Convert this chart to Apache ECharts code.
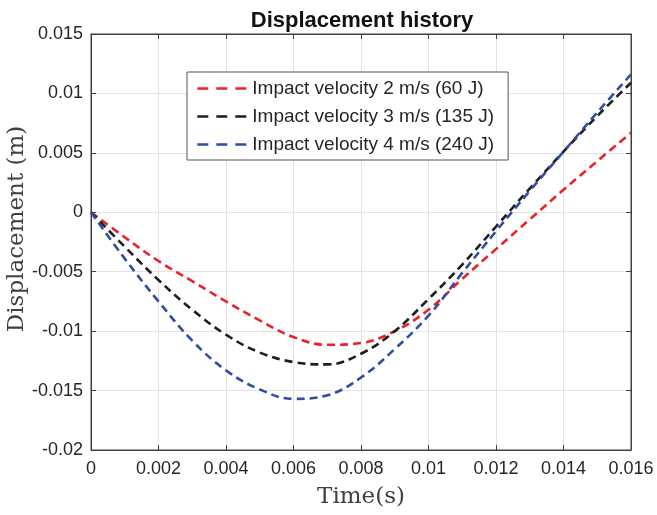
<!DOCTYPE html>
<html>
<head>
<meta charset="utf-8">
<script src="https://cdn.jsdelivr.net/npm/echarts@6/dist/echarts.min.js"></script>
<style>
  html, body { margin: 0; padding: 0; background: #fff; }
  #chart { width: 657px; height: 515px; }
</style>
</head>
<body>
<div id="chart"></div>
<script>
// time samples (s)
const times = [0, 0.001, 0.002, 0.003, 0.004, 0.005, 0.006, 0.007, 0.008,
  0.009, 0.010, 0.011, 0.012, 0.013, 0.014, 0.015, 0.016];

// displacement (m)
const v2 = [0, -0.0021, -0.0041, -0.0058, -0.0075, -0.0091, -0.0105, -0.01115, -0.0110,
  -0.0100, -0.0082, -0.0056, -0.0031, -0.0006, 0.0019, 0.0043, 0.0067];
const v3 = [0, -0.0029, -0.0057, -0.0082, -0.0103, -0.0118, -0.0126, -0.0128, -0.0119,
  -0.0100, -0.0073, -0.0044, -0.0012, 0.0020, 0.0051, 0.0081, 0.0109];
const v4 = [0, -0.0039, -0.0075, -0.0108, -0.0133, -0.0149, -0.0157, -0.0154, -0.0139,
  -0.0115, -0.0087, -0.0051, -0.0016, 0.0018, 0.0051, 0.0084, 0.0116];

const names = ['Impact velocity 2 m/s (60 J)', 'Impact velocity 3 m/s (135 J)', 'Impact velocity 4 m/s (240 J)'];
const colors = ['#ec2027', '#1e1e1e', '#2f4ea2'];

const pairs = (ys) => times.map((t, i) => [t, ys[i]]);

let chart = echarts.init(document.getElementById('chart'));

const axisCol = '#404040';
const tickFont = { fontFamily: 'Liberation Sans', fontSize: 18, color: '#262626' };

// plain axes on top / right, only for the box ticks
const boxTicks = {
    axisLine: { show: true, onZero: false, lineStyle: { color: axisCol } },
    axisTick: { show: true, inside: true, length: 5, lineStyle: { color: axisCol } },
    axisLabel: { show: false },
    splitLine: { show: false }
};

chart.setOption({
    animation: false,
    title: {
        text: 'Displacement history',
        left: 357,
        top: 5,
        textAlign: 'center',
        textStyle: { fontFamily: 'Liberation Sans', fontWeight: 'bold', fontSize: 22, color: '#111' }
    },
    grid: {
        left: 91, right: 26, top: 34, bottom: 65,
        outerBoundsMode: 'none',
        show: true, borderColor: axisCol, borderWidth: 1
    },
    legend: {
        orient: 'vertical',
        left: 187, top: 72,
        itemWidth: 50, itemHeight: 19, itemGap: 9,
        padding: [7, 14, 6, 9],
        backgroundColor: '#fff',
        borderColor: '#555', borderWidth: 1,
        itemStyle: { opacity: 0 },
        lineStyle: { type: [11, 8], width: 2.6 },
        textStyle: { fontFamily: 'Liberation Sans', fontSize: 19, color: '#262626' },
        data: names
    },
    xAxis: [Object.assign({
        type: 'value', min: 0, max: 0.016, interval: 0.002,
        name: 'Time(s)', nameLocation: 'middle', nameGap: 36,
        nameTextStyle: { fontFamily: 'DejaVu Serif', fontSize: 23, color: '#404040' }
    }, boxTicks, {
        axisLabel: Object.assign({ margin: 10 }, tickFont),
        splitLine: { show: true, lineStyle: { color: '#e3e3e3' } }
    }), Object.assign({
        type: 'value', min: 0, max: 0.016, interval: 0.002, position: 'top'
    }, boxTicks)],
    yAxis: [Object.assign({
        type: 'value', min: -0.02, max: 0.015, interval: 0.005,
        name: 'Displacement (m)', nameLocation: 'middle', nameGap: 62,
        nameMoveOverlap: false,
        nameTextStyle: { fontFamily: 'DejaVu Serif', fontSize: 23, color: '#404040', padding: [0, 0, 0, 26] }
    }, boxTicks, {
        axisLabel: Object.assign({ margin: 8 }, tickFont),
        splitLine: { show: true, lineStyle: { color: '#e3e3e3' } }
    }), Object.assign({
        type: 'value', min: -0.02, max: 0.015, interval: 0.005, position: 'right'
    }, boxTicks)],
    series: [v2, v3, v4].map((ys, i) => ({
        name: names[i],
        type: 'line',
        smooth: 0.4,
        symbol: 'none',
        data: pairs(ys),
        color: colors[i],
        lineStyle: { color: colors[i], width: 2.6, type: [8, 5] }
    }))
});
</script>
</body>
</html>
